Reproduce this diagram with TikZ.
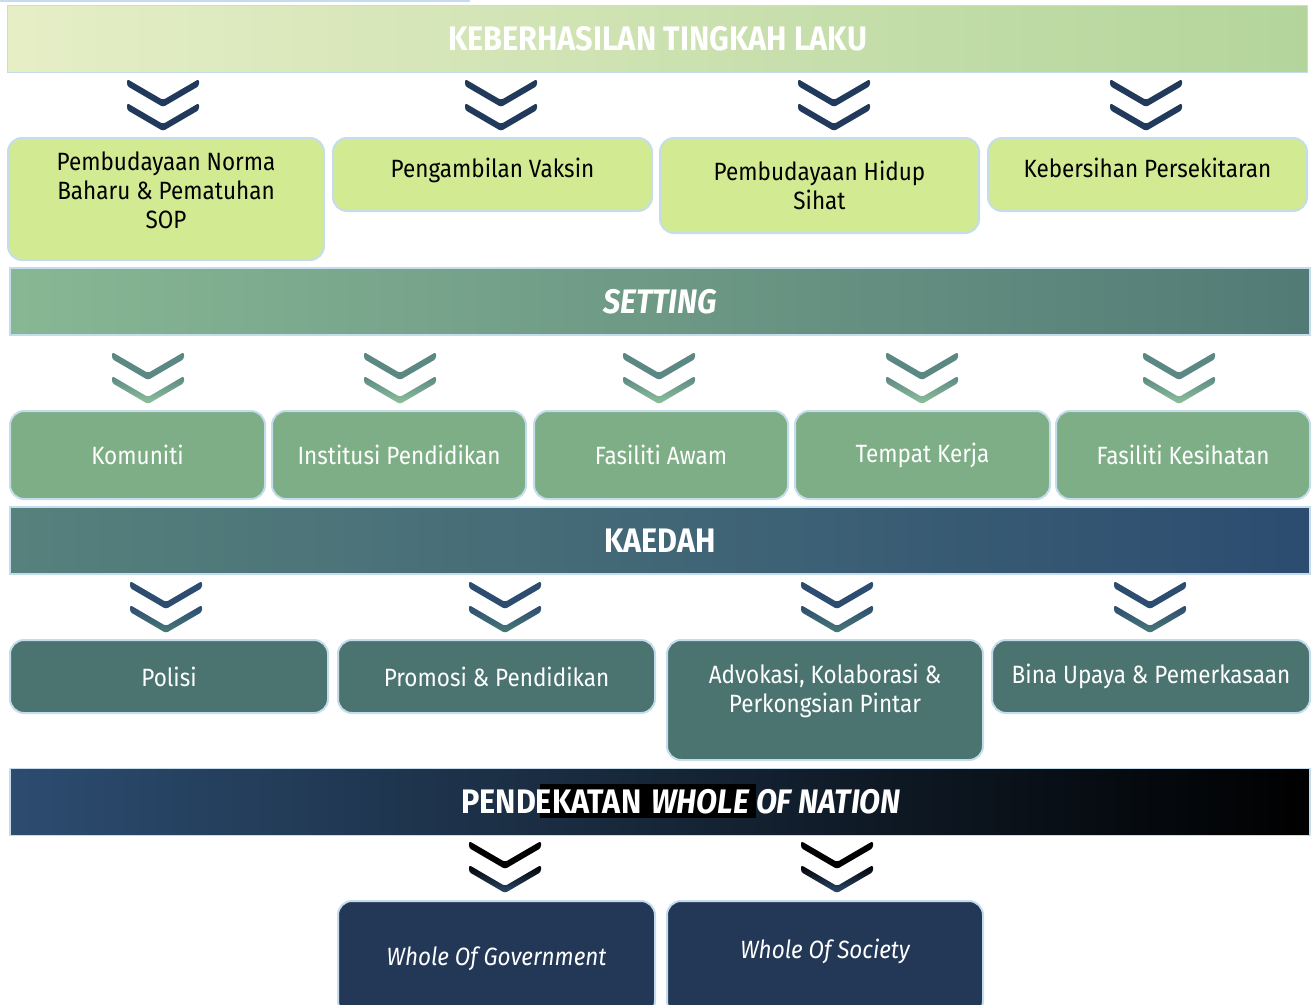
\documentclass[tikz,border=0pt]{standalone}
\usepackage{fontspec}
\setmainfont{Fira Sans}[FakeStretch=0.9]
\usetikzlibrary{positioning}

\definecolor{garisbiru}{HTML}{C5DCEC}
\definecolor{hijaulimau}{HTML}{D2EB92}
\definecolor{hijausage}{HTML}{7EAE86}
\definecolor{tealgelap}{HTML}{4B7471}
\definecolor{birulaut}{HTML}{233857}
\definecolor{chevbiru}{HTML}{213A5C}
\definecolor{chevteal}{HTML}{5B8883}
\definecolor{chevhijau}{HTML}{8FC19C}
\definecolor{chevbiru2}{HTML}{2C4C70}
\definecolor{chevteal2}{HTML}{4A7A78}
\definecolor{pucatkiri}{HTML}{E6EEC6}
\definecolor{pucattengah}{HTML}{B6D69D}
\definecolor{pucatkanan}{HTML}{B3D59B}

\tikzset{
  banner/.style={draw=garisbiru, line width=1.5, minimum width=1300, minimum height=67,
    inner sep=0, text=white, font=\fontsize{34}{40}\selectfont\bfseries},
  kotak/.style={draw=garisbiru, line width=2, rounded corners=14, align=center,
    inner sep=0, font=\fontsize{25}{29}\selectfont},
  pics/chevron/.style n args={3}{code={
    \fill[#1, rounded corners=2.5] (-36,-1) -- (0,20) -- (36,-1) -- (36,6) -- (0,27) -- (-36,6) -- cycle;
    \shade[top color=#2, bottom color=#3, rounded corners=2.5] (-36,23) -- (0,44) -- (36,23) -- (36,30) -- (0,51) -- (-36,30) -- cycle;
  }}
}

\begin{document}
\begin{tikzpicture}[x=1pt, y=-1pt]
    \useasboundingbox (0,0) rectangle (1314,1004);
    \clip (0,0) rectangle (1314,1004);
    \draw[garisbiru, line width=2] (0,1) -- (470,1);

    % Keberhasilan tingkah laku
    \node[banner, left color=pucatkiri, middle color=pucattengah, right color=pucatkanan]
        (khtl) at (657.5,39) {KEBERHASILAN TINGKAH LAKU};
    \foreach \x in {163, 501, 834, 1146}
        \pic at (\x,80) {chevron={chevbiru}{chevbiru}{chevbiru}};
    \node[kotak, fill=hijaulimau, minimum width=316, minimum height=122, text depth=17] (norma) at (166,199)
        {Pembudayaan Norma\\Baharu \& Pematuhan\\SOP};
    \node[kotak, fill=hijaulimau, minimum width=319, minimum height=73, text depth=14] (vaksin) at (492.5,174.5)
        {Pengambilan Vaksin};
    \node[kotak, fill=hijaulimau, minimum width=319, minimum height=95] (sihat) at (819.5,185.5)
        {Pembudayaan Hidup\\Sihat};
    \node[kotak, fill=hijaulimau, minimum width=319, minimum height=73, text depth=14] (bersih) at (1147.5,174.5)
        {Kebersihan Persekitaran};

    % Setting
    \node[banner, left color=chevhijau!95!black, middle color=chevteal!90!chevhijau, right color=chevteal!90!black]
        (setting) at (660,301.5) {\itshape SETTING};
    \foreach \x in {148, 400, 659, 922, 1179}
        \pic at (\x,353) {chevron={chevteal}{chevteal}{chevhijau}};
    \node[kotak, fill=hijausage, text=white, minimum width=255, minimum height=88] (komuniti) at (137.5,455) {Komuniti};
    \node[kotak, fill=hijausage, text=white, minimum width=254, minimum height=88] (institusi) at (399,455) {Institusi Pendidikan};
    \node[kotak, fill=hijausage, text=white, minimum width=254, minimum height=88] (awam) at (661,455) {Fasiliti Awam};
    \node[kotak, fill=hijausage, text=white, minimum width=255, minimum height=88] (kerja) at (922.5,455) {Tempat Kerja};
    \node[kotak, fill=hijausage, text=white, minimum width=254, minimum height=88] (kesihatan) at (1183,455) {Fasiliti Kesihatan};

    % Kaedah
    \node[banner, left color=chevteal!95!black, middle color=chevbiru2, right color=chevbiru2]
        (kaedah) at (660,540.5) {KAEDAH};
    \foreach \x in {166, 505, 837, 1150}
        \pic at (\x,582) {chevron={chevbiru2}{chevbiru2}{chevteal2}};
    \node[kotak, fill=tealgelap, text=white, minimum width=318, minimum height=73] (polisi) at (169,676.5) {Polisi};
    \node[kotak, fill=tealgelap, text=white, minimum width=317, minimum height=73] (promosi) at (496.5,676.5) {Promosi \& Pendidikan};
    \node[kotak, fill=tealgelap, text=white, minimum width=316, minimum height=120, text depth=23] (advokasi) at (825,700)
        {Advokasi, Kolaborasi \&\\Perkongsian Pintar};
    \node[kotak, fill=tealgelap, text=white, minimum width=318, minimum height=73] (bina) at (1151,676.5) {Bina Upaya \& Pemerkasaan};

    % Pendekatan whole of nation
    \node[banner, left color=chevbiru2, middle color=black!90!birulaut, right color=black] (pendekatan) at (660,802) {};
    \fill[black] (540,784) rectangle (756,818);
    \node[text=white, font=\fontsize{34}{40}\selectfont\bfseries] (pendekatanteks) at (681,802)
        {PENDEKATAN\hspace{10pt}\textit{WHOLE OF NATION}};
    \foreach \x in {505, 837}
        \pic at (\x,842) {chevron={black}{black}{chevbiru2}};
    \node[kotak, fill=birulaut, text=white, minimum width=317, minimum height=114, text depth=4] (kerajaan) at (496.5,958)
        {\itshape Whole Of Government};
    \node[kotak, fill=birulaut, text=white, minimum width=316, minimum height=114, text depth=18] (masyarakat) at (825,958)
        {\itshape Whole Of Society};
\end{tikzpicture}
\end{document}
